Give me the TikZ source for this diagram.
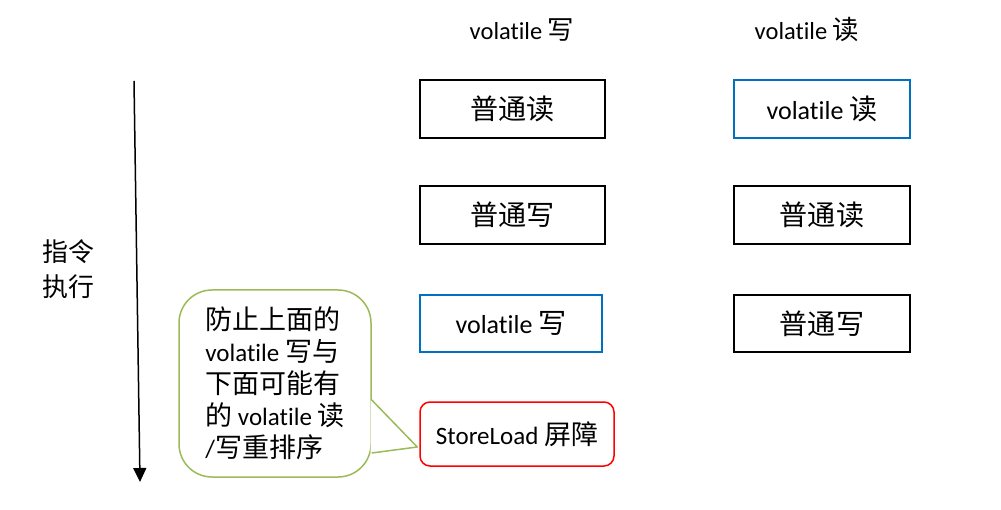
\documentclass[tikz,border=0pt]{standalone}
\usepackage{fontspec}
\setmainfont{Carlito}[Ligatures=NoCommon]
\newfontfamily\cjk[Scale=1.08]{Noto Sans CJK SC}
\newcommand{\zh}[1]{{\cjk #1}}
\usetikzlibrary{arrows.meta}

\definecolor{volblue}{RGB}{0,112,192}
\definecolor{barred}{RGB}{255,0,0}
\definecolor{notegreen}{RGB}{155,187,89}

\begin{document}
\begin{tikzpicture}[x=1pt, y=-1pt,
    box/.style={draw=black, line width=1.5pt, minimum width=185pt, minimum height=58pt,
                inner sep=0pt, font=\fontsize{26}{30}\selectfont},
    vbox/.style={box, draw=volblue},
    head/.style={font=\fontsize{24.5}{29}\selectfont}]

\useasboundingbox (0,0) rectangle (1001,510);

% time axis
\coordinate (top) at (134,81);
\coordinate (bot) at (140,482);
\draw [line width=1.5pt, -{Triangle[width=13pt,length=14pt]}] (top) -- (bot);

\node (exec) [align=center, font=\fontsize{24}{35}\selectfont] at (68,269) {\zh{指令}\\\zh{执行}};

% column titles
\node (hw) [head] at (522,30) {volatile \zh{写}};
\node (hr) [head] at (807,30) {volatile \zh{读}};

% volatile write column
\node (w1) [box]  at (512.5,109) {\zh{普通读}};
\node (w2) [box]  at (512.5,215) {\zh{普通写}};
\node (w3) [vbox, minimum width=182pt, minimum height=57pt] at (511,323.5) {volatile \zh{写}};
\node (sl) [draw=barred, line width=1.5pt, rounded corners=10pt, minimum width=194pt,
            minimum height=64pt, font=\fontsize{25}{28}\selectfont] at (517,434) {StoreLoad \zh{屏障}};

% volatile read column
\node (r1) [vbox, minimum width=176pt] at (822,109) {volatile \zh{读}};
\node (r2) [box,  minimum width=176pt] at (822,215) {\zh{普通读}};
\node (r3) [box,  minimum width=176pt, minimum height=57pt] at (822,323.5) {\zh{普通写}};

% note
\node (note) [draw=notegreen, line width=1.5pt, rounded corners=33pt, minimum width=192pt,
              minimum height=187pt, align=left,
              font=\fontsize{25}{32}\selectfont] at (275,383.5)
  {\zh{防止上面的}\\volatile \zh{写与}\\\zh{下面可能有}\\\zh{的} volatile \zh{读}\\/\zh{写重排序}};

\coordinate (b1) at ([yshift=-16.5pt]note.east);
\coordinate (b2) at ([yshift=-69.5pt]note.east);
\coordinate (tip) at ([xshift=-2pt, yshift=-13pt]sl.west);
\fill [white] ([xshift=-1.2pt]b1) -- (tip) -- ([xshift=-1.2pt]b2) -- cycle;
\draw [notegreen, line width=1.5pt, line join=round] (b1) -- (tip) -- (b2);

\end{tikzpicture}
\end{document}
